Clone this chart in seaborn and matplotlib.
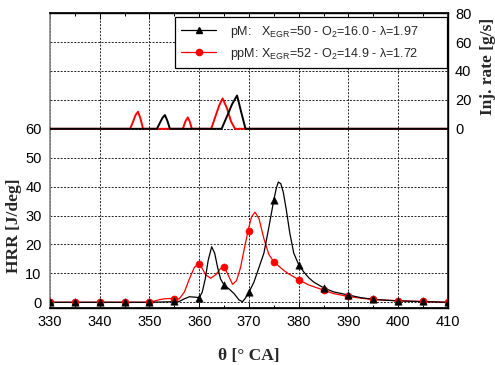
import matplotlib
matplotlib.use("Agg")
import matplotlib.pyplot as plt
from matplotlib.lines import Line2D
from matplotlib.ticker import MultipleLocator
import seaborn as sns
import pandas as pd

# ---------------- data ----------------
# HRR curves (pM: black, ppM: red)
theta_pM = [330, 335, 340, 345, 350, 355, 356, 357, 358, 359, 360, 360.6, 361.2, 361.8, 362.5, 363.1, 363.7, 364.3,
            365, 366, 367, 368, 368.7, 369.3, 370, 371, 372, 373, 374, 375, 375.5, 375.9, 376.4, 376.9, 377.5,
            378.2, 379, 380, 381, 382, 383, 385, 387, 390, 392.5, 395, 397.5, 400, 405, 410]
hrr_pM = [0, 0, 0, 0, 0, 0.2, 0.3, 1.2, 1.9, 1.8, 1.6, 3.5, 8, 14.5, 19.2, 17, 12, 8,
          6, 4.6, 3, 0.8, 0.2, 1.5, 3.5, 7, 12, 17, 26, 35.5, 39.5, 41.6, 41, 38, 32,
          24, 17, 13, 10.5, 8.5, 7, 5, 3.6, 2.5, 1.6, 1.0, 0.7, 0.5, 0.2, 0]

theta_ppM = [330, 335, 340, 345, 350, 351, 352, 353, 354, 355, 356, 357, 358, 359, 359.8, 360.5,
             361.3, 362.3, 363.3, 364.3, 365, 365.8, 366.7, 367.5, 368.3, 369, 369.8, 370.5, 371.2,
             372, 373, 374, 375, 376, 377, 378, 380, 382, 385, 387, 390, 392.5, 395, 400, 405, 410]
hrr_ppM = [0, 0, 0, 0, 0, 0.4, 0.9, 1.2, 1.3, 1.2, 1.2, 3.5, 8, 12, 13.3, 12,
           9.5, 8.3, 9.5, 11.7, 12.2, 9.5, 6.2, 7.5, 12, 18, 24.7, 29.5, 31.2,
           29, 22, 16.5, 14, 12.5, 11, 9.8, 7.8, 6, 4.2, 3, 2, 1.4, 1.0, 0.5, 0.3, 0]

# markers every 5 deg
theta_mk = [330, 335, 340, 345, 350, 355, 360, 365, 370, 375, 380, 385, 390, 395, 400, 405, 410]
mk_pM = [0.2, 0.2, 0.2, 0.2, 0.2, 0.4, 1.6, 6, 3.5, 35.5, 13, 5, 2.5, 1.0, 0.5, 0.3, 0.2]
mk_ppM = [0.2, 0.2, 0.2, 0.2, 0.2, 1.2, 13.3, 12.2, 24.7, 14, 7.8, 4.2, 2.0, 1.0, 0.5, 0.3, 0.2]

# injection rates
theta_inj_pM = [330, 351.5, 352.0, 352.6, 353.1, 353.6, 354.1, 364.5, 365.5, 366.6, 367.6, 368.4, 369.3, 410]
inj_pM = [0, 0, 3.5, 7.5, 9.5, 5.5, 0, 0, 8, 17, 23, 12, 0, 0]
theta_inj_ppM = [330, 346.1, 346.6, 347.2, 347.7, 348.2, 348.7, 356.7, 357.2, 357.7, 358.1, 358.5,
                 362.4, 363.2, 364.0, 364.7, 365.6, 366.4, 367.2, 410]
inj_ppM = [0, 0, 4, 9.5, 11.8, 7, 0, 0, 5, 7.9, 5, 0,
           0, 8, 16, 21, 14, 5, 0, 0]

label_pM = r"pM:   X$_{\mathregular{EGR}}$=50 - O$_{\mathregular{2}}$=16.0 - λ=1.97"
label_ppM = r"ppM: X$_{\mathregular{EGR}}$=52 - O$_{\mathregular{2}}$=14.9 - λ=1.72"

# ---------------- style ----------------
sns.set_theme(style="white")
plt.rcParams['font.family'] = ['Liberation Sans', 'DejaVu Sans']
plt.rcParams['mathtext.fontset'] = 'custom'
plt.rcParams['mathtext.rm'] = 'Liberation Sans'
plt.rcParams['mathtext.it'] = 'Liberation Sans'

fig = plt.figure(figsize=(4.95, 3.65), dpi=100)
ax = fig.add_axes([0.101, 0.156, 0.804, 0.808])
ax2 = ax.twinx()

# HRR curves
df_c_p = pd.DataFrame({"theta": theta_ppM, "hrr": hrr_ppM})
df_c_b = pd.DataFrame({"theta": theta_pM, "hrr": hrr_pM})
sns.lineplot(data=df_c_p, x="theta", y="hrr", ax=ax, color="red", lw=0.9, sort=False, estimator=None, zorder=3)
sns.lineplot(data=df_c_b, x="theta", y="hrr", ax=ax, color="black", lw=0.9, sort=False, estimator=None, zorder=4)
df_m_p = pd.DataFrame({"theta": theta_mk, "hrr": mk_ppM})
df_m_b = pd.DataFrame({"theta": theta_mk, "hrr": mk_pM})
sns.scatterplot(data=df_m_p, x="theta", y="hrr", ax=ax, color="red", marker="o", s=26, edgecolor="red", linewidth=0.4, zorder=5)
sns.scatterplot(data=df_m_b, x="theta", y="hrr", ax=ax, color="black", marker="^", s=28, edgecolor="black", linewidth=0.4, zorder=6)

ax.set_xlim(330, 410)
ax.set_ylim(-2, 100)
ax.set_yticks([0, 10, 20, 30, 40, 50, 60])
ax.xaxis.set_major_locator(MultipleLocator(10))
ax.xaxis.set_minor_locator(MultipleLocator(5))
ax.grid(True, which="major", color="#222222", linestyle=(0, (2, 1.5)), linewidth=0.7)
ax.grid(False, which="minor")
ax.set_axisbelow(True)

# injection
df_i_p = pd.DataFrame({"theta": theta_inj_ppM, "inj": inj_ppM})
df_i_b = pd.DataFrame({"theta": theta_inj_pM, "inj": inj_pM})
sns.lineplot(data=df_i_p, x="theta", y="inj", ax=ax2, color="red", lw=1.4, sort=False, estimator=None, zorder=3)
sns.lineplot(data=df_i_b, x="theta", y="inj", ax=ax2, color="black", lw=1.4, sort=False, estimator=None, zorder=4)
ax2.set_ylim(-124, 80)
ax2.set_yticks([0, 20, 40, 60, 80])
ax2.grid(True, axis="y", color="#222222", linestyle=(0, (2, 1.5)), linewidth=0.7)
ax2.set_xlim(330, 410)

# ticks / spines
tick_fs = 10.5
ax.tick_params(axis="x", which="both", direction="in", top=True, bottom=True, labelsize=tick_fs, pad=5, colors="black")
ax.tick_params(axis="x", which="major", length=4, width=0.7)
ax.tick_params(axis="x", which="minor", length=2.5, width=0.7)
ax.tick_params(axis="y", length=0, labelsize=tick_fs, pad=6, labelcolor="black")
ax2.tick_params(axis="y", length=0, labelsize=tick_fs, pad=5, labelcolor="black")
for s in ["top", "bottom"]:
    ax.spines[s].set_color("black")
    ax.spines[s].set_linewidth(1.0)
ax.spines["left"].set_color("#888888")
ax.spines["left"].set_linewidth(1.2)
ax2.spines["left"].set_visible(False)
ax2.spines["right"].set_color("black")
ax2.spines["right"].set_linewidth(1.0)
ax2.spines["top"].set_color("black")
ax2.spines["bottom"].set_color("black")

lab_font = dict(family=["Liberation Serif", "DejaVu Serif"], weight="bold", size=12.5)
ax.set_xlabel("θ [° CA]", fontdict=lab_font)
ax.set_ylabel("HRR [J/deg]", fontdict=lab_font)
ax2.set_ylabel("Inj. rate [g/s]", fontdict=lab_font)
ax.xaxis.set_label_coords(0.5, -0.135)
ax.yaxis.set_label_coords(-0.07, 0.28)
ax2.yaxis.set_label_coords(1.08, 0.82)

handles = [Line2D([], [], color="black", lw=0.9, marker="^", markersize=4.5),
           Line2D([], [], color="red", lw=0.9, marker="o", markersize=4.5)]
leg = ax2.legend(handles, [label_pM, label_ppM], loc="upper left",
                 bbox_to_anchor=(0.314, 0.824, 0.683, 0.162), mode="expand",
                 fontsize=9, frameon=True, fancybox=False, framealpha=1, edgecolor="black",
                 handlelength=2.8, borderpad=0.5, labelspacing=0.5, handletextpad=1.1,
                 borderaxespad=0.0)
leg.get_frame().set_linewidth(0.9)

fig.savefig("out.png", dpi=100)
